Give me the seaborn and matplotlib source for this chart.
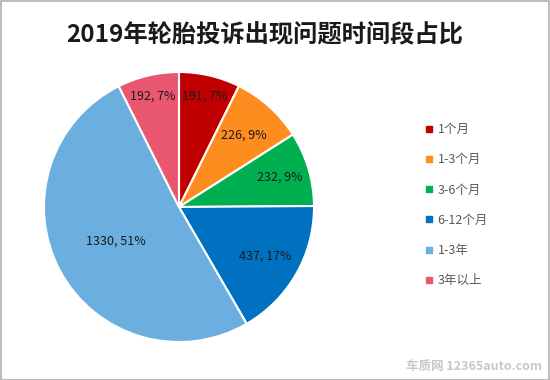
import numpy as np
import seaborn as sns
import matplotlib.pyplot as plt
from matplotlib.lines import Line2D
from matplotlib.patches import Rectangle

sns.set_style("white")
plt.rcParams['font.family'] = ['Noto Sans CJK SC', 'DejaVu Sans']

title = "2019年轮胎投诉出现问题时间段占比"
categories = ["1个月", "1-3个月", "3-6个月", "6-12个月", "1-3年", "3年以上"]
counts = [191, 226, 232, 437, 1330, 192]
colors = sns.color_palette(["#C00000", "#FF8C1E", "#00B050", "#0070C0", "#6BAEE0", "#E9566F"])
# radial position of each data label (fraction of radius)
label_r = [0.84, 0.72, 0.78, 0.74, 0.53, 0.84]

fig = plt.figure(figsize=(5.5, 3.8), dpi=100)
ax = fig.add_axes([0.08, 0.1, 270 / 550, 270 / 380])

wedges, _ = ax.pie(counts, colors=colors, startangle=90, counterclock=False,
                   wedgeprops=dict(edgecolor="white", linewidth=1.5))
ax.set_xlim(-1, 1)
ax.set_ylim(-1, 1)
ax.set_aspect("equal")

total = sum(counts)
for w, c, r in zip(wedges, counts, label_r):
    mid = np.deg2rad((w.theta1 + w.theta2) / 2)
    ax.text(r * np.cos(mid), r * np.sin(mid), f"{c}, {round(c / total * 100)}%",
            ha="center", va="center", fontsize=9, color="#1a1a1a")

fig.text(0.482, 0.908, title, ha="center", va="center", fontsize=17.5,
         fontweight="bold", color="#1a1a1a")

handles = [Line2D([], [], marker="s", linestyle="", markersize=5,
                  markerfacecolor=col, markeredgecolor=col) for col in colors]
fig.legend(handles, categories, loc="center left", bbox_to_anchor=(0.748, 0.46),
           frameon=False, fontsize=9, labelspacing=1.38, handletextpad=0.2,
           handlelength=1.0, labelcolor="#595959")

fig.text(0.985, 0.035, "车质网 12365auto.com", ha="right", va="center",
         fontsize=9, color="#c8c8c8", fontweight="bold")

fig.patches.append(Rectangle((0.001, 0.001), 0.997, 0.997, transform=fig.transFigure,
                             fill=False, edgecolor="#b0b0b0", linewidth=1.2))

fig.savefig("out.png", dpi=100)
